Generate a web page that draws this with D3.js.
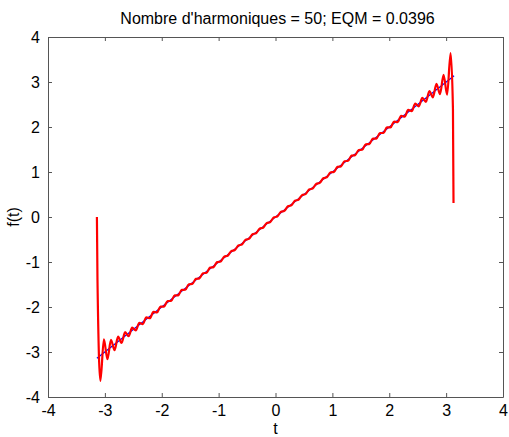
<!DOCTYPE html>
<html>
<head>
<meta charset="utf-8">
<script src="https://cdn.jsdelivr.net/npm/d3@7"></script>
<style>
  body { margin: 0; background: #fff; }
  text { font-family: "Liberation Sans", Arial, sans-serif; fill: #000; }
</style>
</head>
<body>
<div class="svg-container"></div>
<script>
// values
const xTicks = [-4, -3, -2, -1, 0, 1, 2, 3, 4];
const yTicks = [-4, -3, -2, -1, 0, 1, 2, 3, 4];

// reference line f(t) = t (blue)
const blueT = [-3.14, 3.14];
const blueF = [-3.14, 3.14];

// partial sum with 50 harmonics (red), extrema
const redT = [-3.14, -3.13, -3.079, -3.017, -2.955, -2.893, -2.830, -2.768, -2.706, -2.644,
  -2.582, -2.520, -2.457, -2.395, -2.333, -2.271, -2.209, -2.147, -2.084, -2.022,
  -1.960, -1.898, -1.835, -1.773, -1.711, -1.649, -1.586, -1.524, -1.462, -1.400,
  -1.338, -1.275, -1.213, -1.151, -1.089, -1.027, -0.964, -0.902, -0.840, -0.778,
  -0.715, -0.653, -0.591, -0.529, -0.467, -0.404, -0.342, -0.280, -0.218, -0.156,
  -0.093, -0.031,
  0.031, 0.093, 0.156, 0.218, 0.280, 0.342, 0.404, 0.467, 0.529, 0.591,
  0.653, 0.715, 0.778, 0.840, 0.902, 0.964, 1.027, 1.089, 1.151, 1.213,
  1.275, 1.338, 1.400, 1.462, 1.524, 1.586, 1.649, 1.711, 1.773, 1.835,
  1.898, 1.960, 2.022, 2.084, 2.147, 2.209, 2.271, 2.333, 2.395, 2.457,
  2.520, 2.582, 2.644, 2.706, 2.768, 2.830, 2.893, 2.955, 3.017, 3.079, 3.12, 3.13];
const redF = [0.0, -1.4, -3.64, -2.72, -3.16, -2.73, -2.96, -2.66, -2.80, -2.56,
  -2.65, -2.46, -2.52, -2.35, -2.38, -2.23, -2.25, -2.11, -2.12, -1.99,
  -1.99, -1.868, -1.865, -1.743, -1.741, -1.619, -1.616, -1.494, -1.487, -1.375,
  -1.363, -1.250, -1.238, -1.126, -1.114, -1.002, -0.989, -0.882, -0.860, -0.758,
  -0.735, -0.633, -0.611, -0.509, -0.487, -0.384, -0.362, -0.260, -0.238, -0.136,
  -0.113, -0.011,
  0.011, 0.113, 0.136, 0.238, 0.260, 0.362, 0.384, 0.487, 0.509, 0.611,
  0.633, 0.735, 0.758, 0.860, 0.882, 0.989, 1.002, 1.114, 1.126, 1.238,
  1.250, 1.363, 1.375, 1.487, 1.494, 1.616, 1.619, 1.741, 1.743, 1.865,
  1.868, 1.99, 1.99, 2.12, 2.11, 2.25, 2.23, 2.38, 2.35, 2.52,
  2.46, 2.65, 2.56, 2.80, 2.66, 2.96, 2.73, 3.16, 2.72, 3.64, 2.4, 0.31];

const title = "Nombre d'harmoniques = 50; EQM = 0.0396";

const W = 509, H = 437;
const margin = { left: 48, right: 6, top: 37, bottom: 40 };
const width = W - margin.left - margin.right;
const height = H - margin.top - margin.bottom;

const svg = d3.select('.svg-container').append('svg')
  .attr('width', W)
  .attr('height', H);

const chart = svg.append('g')
  .attr('transform', `translate(${margin.left}, ${margin.top})`);

const x = d3.scaleLinear().domain([-4, 4]).range([0, width]);
const y = d3.scaleLinear().domain([-4, 4]).range([height, 0]);

const axisColor = '#555';
const tickLen = 4;
const fmt = d => String(d);

// box + inward ticks on all sides
function styleAxis(g) {
  g.select('.domain').attr('stroke', axisColor);
  g.selectAll('.tick line').attr('stroke', axisColor);
  g.selectAll('.tick text').style('font-size', '16px').attr('fill', '#000');
}

chart.append('g')
  .attr('transform', `translate(0, ${height})`)
  .call(d3.axisBottom(x).tickValues(xTicks).tickFormat(fmt).tickSizeInner(-tickLen).tickSizeOuter(0).tickPadding(8))
  .call(styleAxis);

chart.append('g')
  .call(d3.axisLeft(y).tickValues(yTicks).tickFormat(fmt).tickSizeInner(-tickLen).tickSizeOuter(0).tickPadding(8))
  .call(styleAxis);

chart.append('g')
  .call(d3.axisTop(x).tickValues(xTicks).tickSizeInner(-tickLen).tickSizeOuter(0).tickFormat(''))
  .call(styleAxis);

chart.append('g')
  .attr('transform', `translate(${width}, 0)`)
  .call(d3.axisRight(y).tickValues(yTicks).tickSizeInner(-tickLen).tickSizeOuter(0).tickFormat(''))
  .call(styleAxis);

// curves
const blueData = blueT.map((t, i) => ({ t: t, f: blueF[i] }));
const redData = redT.map((t, i) => ({ t: t, f: redF[i] }));

const line = d3.line().x(d => x(d.t)).y(d => y(d.f));

chart.append('path')
  .datum(blueData)
  .attr('d', line)
  .attr('fill', 'none')
  .attr('stroke', '#0000ff')
  .attr('stroke-width', 1.2);

chart.append('path')
  .datum(redData)
  .attr('d', line.curve(d3.curveMonotoneX))
  .attr('fill', 'none')
  .attr('stroke', '#ff0000')
  .attr('stroke-width', 2.2)
  .attr('stroke-linejoin', 'round');

// labels
svg.append('text')
  .attr('x', margin.left + width / 2 + 2)
  .attr('y', 24)
  .attr('text-anchor', 'middle')
  .style('font-size', '16px')
  .text(title);

svg.append('text')
  .attr('x', margin.left + width / 2)
  .attr('y', 434)
  .attr('text-anchor', 'middle')
  .style('font-size', '16px')
  .text('t');

svg.append('text')
  .attr('transform', `translate(19, ${margin.top + height / 2}) rotate(-90)`)
  .attr('text-anchor', 'middle')
  .style('font-size', '16px')
  .text('f(t)');
</script>
</body>
</html>
